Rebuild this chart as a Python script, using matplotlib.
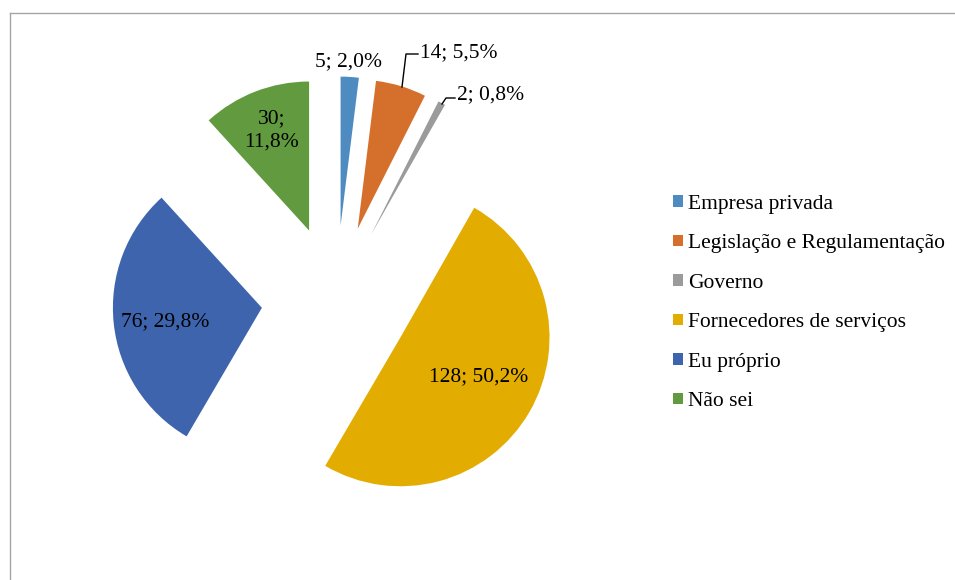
import matplotlib.pyplot as plt
from matplotlib.lines import Line2D
from matplotlib.patches import Patch

plt.rcParams["font.family"] = ["Liberation Serif", "DejaVu Serif"]

W, H = 955, 580

categories = ["Empresa privada", "Legislação e Regulamentação", "Governo",
              "Fornecedores de serviços", "Eu próprio", "Não sei"]
counts = [5, 14, 2, 128, 76, 30]
colors = ["#4E8BC1", "#D5702C", "#9B9B9B", "#E2AC00", "#3D64AD", "#629A3F"]

total = sum(counts)


def label(v):
    return f"{v}; {100 * v / total:.1f}%".replace(".", ",")


def px(x, y):
    # pixel position (y measured downward) -> data coords
    return x, H - y


fig = plt.figure(figsize=(W / 100, H / 100), dpi=100)
ax = fig.add_axes([0, 0, 1, 1])

R = 149
wedges, _ = ax.pie(counts, colors=colors, startangle=90, counterclock=False,
                   explode=[0.5 * R] * len(counts), radius=R,
                   center=px(336, 300), frame=False,
                   wedgeprops=dict(linewidth=0))
ax.set_xlim(0, W)
ax.set_ylim(0, H)
ax.set_aspect("equal")
ax.axis("off")

fs = 15.5
labels = [label(v) for v in counts]
ax.text(*px(348, 62), labels[0], ha="center", va="center", fontsize=fs)
ax.text(*px(420, 53), labels[1], ha="left", va="center", fontsize=fs)
ax.text(*px(457, 95), labels[2], ha="left", va="center", fontsize=fs)
ax.text(*px(479, 377), labels[3], ha="center", va="center", fontsize=fs)
ax.text(*px(165, 322), labels[4], ha="center", va="center", fontsize=fs)
ax.text(*px(272, 130), labels[5].replace("; ", ";\n"), ha="center",
        va="center", fontsize=fs, linespacing=1.3)

# leader lines for the two small outside labels
for pts in ([(402, 87), (406, 54), (418, 54)],
            [(442, 104), (446, 98), (455, 98)]):
    xs, ys = zip(*[px(*p) for p in pts])
    ax.plot(xs, ys, color="black", lw=1)

handles = [Patch(facecolor=c, edgecolor="none") for c in colors]
ax.legend(handles, categories, loc="center left",
          bbox_to_anchor=(673 / W, 1 - 303 / H), frameon=False, fontsize=fs,
          handlelength=0.45, handleheight=0.45, handletextpad=0.25,
          labelspacing=0.95, borderpad=0, borderaxespad=0)

# chart area border
fig.add_artist(Line2D([9.5 / W, 1], [1 - 12.5 / H] * 2, color="#A6A6A6",
                      lw=1, transform=fig.transFigure))
fig.add_artist(Line2D([9.5 / W] * 2, [0, 1 - 12.5 / H], color="#A6A6A6",
                      lw=1, transform=fig.transFigure))

fig.savefig("out.png", dpi=100)
